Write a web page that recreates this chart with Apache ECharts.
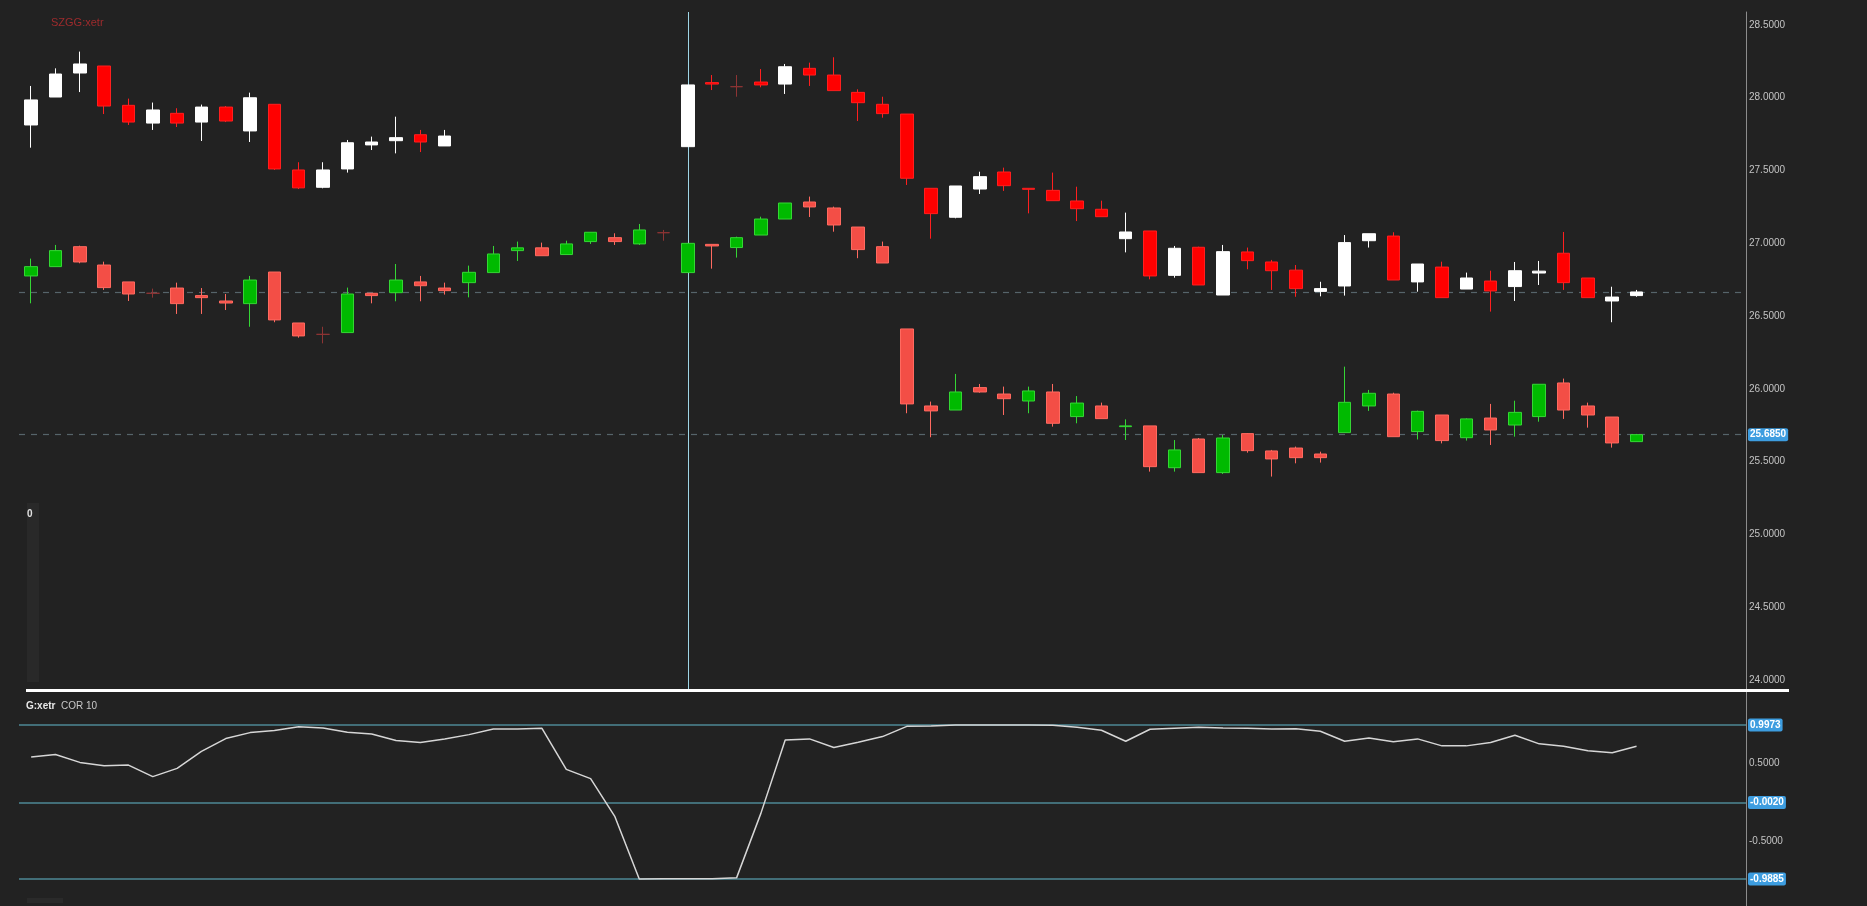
<!DOCTYPE html>
<html>
<head>
<meta charset="utf-8">
<script src="https://cdn.jsdelivr.net/npm/echarts@6/dist/echarts.min.js"></script>
<style>
html,body{margin:0;padding:0;background:#222222;}
#chart{width:1867px;height:906px;}
</style>
</head>
<body>
<div id="chart"></div>
<script>
// ---- data ----
// rows: [open, close, low, high]
const szgg = [
  [27.812,27.984,27.656,28.080],[28.004,28.162,28.004,28.201],[28.169,28.231,28.038,28.316],
  [28.217,27.942,27.887,28.217],[27.947,27.832,27.812,27.993],[27.825,27.915,27.778,27.966],
  [27.892,27.825,27.798,27.927],[27.832,27.935,27.702,27.952],[27.935,27.839,27.832,27.942],
  [27.771,27.999,27.695,28.034],[27.954,27.510,27.503,27.954],[27.503,27.380,27.372,27.556],
  [27.384,27.503,27.377,27.556],[27.510,27.690,27.485,27.709],[27.675,27.695,27.640,27.732],
  [27.704,27.725,27.617,27.869],[27.745,27.695,27.626,27.778],[27.668,27.736,27.668,27.778],
  '-','-','-','-','-','-','-','-','-',
  [27.663,28.087,27.663,28.087],[28.103,28.093,28.052,28.155],[28.075,28.075,28.006,28.155],
  [28.107,28.087,28.071,28.196],[28.093,28.212,28.025,28.231],[28.201,28.155,28.080,28.240],
  [28.155,28.048,28.048,28.277],[28.036,27.965,27.839,28.057],[27.954,27.890,27.862,28.006],
  [27.887,27.446,27.400,27.887],[27.377,27.203,27.031,27.377],[27.178,27.393,27.171,27.393],
  [27.372,27.457,27.338,27.491],[27.489,27.395,27.359,27.519],[27.377,27.370,27.205,27.377],
  [27.363,27.292,27.292,27.485],[27.290,27.237,27.152,27.388],[27.233,27.182,27.182,27.292],
  [27.031,27.077,26.937,27.210],[27.084,26.775,26.752,27.084],[26.779,26.965,26.763,26.981],
  [26.972,26.713,26.713,26.976],[26.644,26.942,26.644,26.988],[26.940,26.880,26.821,26.970],
  [26.871,26.811,26.679,26.885],[26.815,26.688,26.632,26.850],[26.669,26.688,26.635,26.735],
  [26.706,27.004,26.640,27.056],[27.017,27.065,26.970,27.065],[27.049,26.747,26.747,27.075],
  [26.734,26.857,26.667,26.857],[26.836,26.626,26.626,26.873],[26.685,26.761,26.685,26.798],
  [26.740,26.672,26.530,26.811],[26.702,26.811,26.603,26.871],[26.795,26.808,26.713,26.878],
  [26.931,26.729,26.679,27.077],[26.761,26.626,26.626,26.761],[26.603,26.630,26.457,26.701],
  [26.640,26.665,26.632,26.679]
];
const second = [
  [26.775,26.839,26.587,26.894],[26.839,26.949,26.839,26.988],[26.976,26.871,26.862,26.983],
  [26.850,26.695,26.679,26.873],[26.734,26.651,26.603,26.734],[26.656,26.656,26.626,26.688],
  [26.692,26.585,26.514,26.729],[26.640,26.626,26.514,26.692],[26.603,26.589,26.541,26.651],
  [26.585,26.747,26.426,26.775],[26.802,26.473,26.457,26.802],[26.452,26.363,26.351,26.452],
  [26.374,26.374,26.312,26.426],[26.386,26.651,26.386,26.695],[26.656,26.640,26.587,26.656],
  [26.660,26.747,26.601,26.857],[26.734,26.708,26.601,26.775],[26.692,26.674,26.647,26.729],
  [26.729,26.800,26.628,26.846],[26.798,26.926,26.798,26.981],[26.949,26.968,26.878,27.011],
  [26.968,26.914,26.914,27.004],[26.922,26.995,26.922,27.017],[27.011,27.075,26.995,27.075],
  [27.038,27.011,26.988,27.068],[26.995,27.091,26.988,27.132],[27.072,27.072,27.017,27.091],
  [26.798,26.999,26.798,26.999],[26.992,26.981,26.825,26.992],[26.970,27.038,26.901,27.045],
  [27.056,27.166,27.056,27.182],[27.166,27.276,27.166,27.276],[27.283,27.249,27.180,27.320],
  [27.242,27.125,27.079,27.251],[27.111,26.956,26.897,27.111],[26.976,26.864,26.864,27.011],
  [26.411,25.896,25.832,26.411],[25.882,25.848,25.667,25.912],[25.854,25.978,25.854,26.102],
  [26.008,25.978,25.973,26.033],[25.964,25.932,25.820,26.015],[25.916,25.985,25.832,26.015],
  [25.978,25.763,25.740,26.033],[25.809,25.902,25.763,25.950],[25.882,25.795,25.795,25.905],
  [25.740,25.745,25.648,25.790],[25.745,25.465,25.431,25.745],[25.458,25.580,25.431,25.648],
  [25.655,25.424,25.424,25.662],[25.424,25.662,25.415,25.683],[25.692,25.575,25.561,25.696],
  [25.573,25.518,25.397,25.580],[25.593,25.527,25.488,25.603],[25.552,25.527,25.493,25.568],
  [25.699,25.907,25.699,26.152],[25.882,25.969,25.848,25.992],[25.964,25.671,25.671,25.973],
  [25.706,25.845,25.652,25.850],[25.820,25.644,25.625,25.820],[25.664,25.793,25.644,25.797],
  [25.799,25.717,25.614,25.896],[25.751,25.838,25.671,25.918],[25.809,26.031,25.774,26.031],
  [26.040,25.854,25.793,26.070],[25.882,25.820,25.733,25.905],[25.806,25.628,25.596,25.806],
  [25.637,25.685,25.637,25.690]
];
const cor10 = [
  0.583,0.617,0.515,0.472,0.480,0.331,0.438,0.656,0.822,0.899,
  0.925,0.976,0.959,0.903,0.882,0.797,0.771,0.818,0.873,0.946,
  0.946,0.955,0.425,0.305,-0.186,-0.9885,-0.988,-0.987,-0.985,-0.975,
  -0.143,0.805,0.818,0.707,0.775,0.848,0.980,0.984,0.997,0.9973,
  0.997,0.997,0.993,0.967,0.929,0.788,0.942,0.955,0.967,0.959,
  0.955,0.946,0.950,0.916,0.788,0.831,0.780,0.818,0.728,0.728,
  0.771,0.865,0.754,0.724,0.664,0.639,0.724
];
const corLevels = [0.9973, -0.0020, -0.9885];
const szggLast = 26.665;
const secondLast = 25.685;
const crossIndex = 27;
const priceTicks = [24.0, 24.5, 25.0, 25.5, 26.0, 26.5, 27.0, 27.5, 28.0, 28.5];
const corTicks = [0.5, -0.5];
const slotCount = 71; // 67 bars + empty space on the right
const categories = Array.from({length: slotCount}, (_, i) => String(i + 1));

// ---- chart ----
const FONT = 'Liberation Sans, Arial, sans-serif';
const chart = echarts.init(document.getElementById('chart'), null, {renderer: 'canvas'});
const blueLabel = {
  show: true, position: 'end', distance: 2,
  formatter: p => Number(p.value).toFixed(4),
  backgroundColor: '#3d9de0', color: '#ffffff', fontWeight: 'bold',
  fontFamily: FONT, fontSize: 10, padding: [2, 2, 1, 2], borderRadius: 2
};
chart.setOption({
  animation: false,
  backgroundColor: '#222222',
  title: {
    text: 'SZGG:xetr', left: 46, top: 12,
    textStyle: {color: '#9e2b2d', fontSize: 11, fontWeight: 'normal', fontFamily: FONT}
  },
  grid: [
    {left: 19, right: 121, top: 12, height: 678},
    {left: 19, right: 121, top: 691, height: 215}
  ],
  xAxis: [
    {type: 'category', gridIndex: 0, data: categories, boundaryGap: true,
     axisLine: {show: false}, axisTick: {show: false}, axisLabel: {show: false}, splitLine: {show: false}},
    {type: 'category', gridIndex: 1, data: categories, boundaryGap: true,
     axisLine: {show: false}, axisTick: {show: false}, axisLabel: {show: false}, splitLine: {show: false}}
  ],
  yAxis: [
    {type: 'value', gridIndex: 0, position: 'right', scale: true,
     min: 23.931, max: 28.588,
     axisLine: {show: true, lineStyle: {color: '#8c8c8c', width: 1}},
     axisTick: {show: false}, splitLine: {show: false},
     axisLabel: {show: true, customValues: priceTicks, margin: 3, color: '#c4c4c4',
                 fontFamily: FONT, fontSize: 10, formatter: v => Number(v).toFixed(4)}},
    {type: 'value', gridIndex: 1, position: 'right',
     min: -1.338, max: 1.436,
     axisLine: {show: true, lineStyle: {color: '#8c8c8c', width: 1}},
     axisTick: {show: false}, splitLine: {show: false},
     axisLabel: {show: true, customValues: corTicks, margin: 3, color: '#c4c4c4',
                 fontFamily: FONT, fontSize: 10, formatter: v => Number(v).toFixed(4)}}
  ],
  series: [
    {
      name: 'SZGG:xetr', type: 'candlestick', xAxisIndex: 0, yAxisIndex: 0,
      data: szgg, barWidth: 13, z: 3,
      itemStyle: {color: '#ffffff', color0: '#ff0000', borderColor: '#ffffff',
                  borderColor0: '#ff1f1f', borderColorDoji: '#8e3434', borderWidth: 1},
      markLine: {
        silent: true, symbol: 'none', z: 2, precision: 4,
        data: [
          {yAxis: szggLast, lineStyle: {color: '#56646a', type: [6, 6], width: 1.2}, label: {show: false}},
          {xAxis: categories[crossIndex], lineStyle: {color: '#9fd6e6', type: 'solid', width: 1}, label: {show: false}}
        ]
      }
    },
    {
      name: 'second', type: 'candlestick', xAxisIndex: 0, yAxisIndex: 0,
      data: second, barWidth: 13, z: 3,
      itemStyle: {color: '#00ba00', color0: '#f34e46', borderColor: '#35d635',
                  borderColor0: '#ff6a60', borderColorDoji: '#8e3434', borderWidth: 1},
      markLine: {
        silent: true, symbol: 'none', z: 2, precision: 4,
        data: [
          {yAxis: secondLast, lineStyle: {color: '#56646a', type: [6, 6], width: 1.2}, label: blueLabel}
        ]
      }
    },
    {
      name: 'COR 10', type: 'line', xAxisIndex: 1, yAxisIndex: 1,
      data: cor10, showSymbol: false, symbol: 'none', z: 4,
      lineStyle: {color: '#d6d6d6', width: 1.5},
      markLine: {
        silent: true, symbol: 'none', z: 3, precision: 4,
        lineStyle: {color: '#4e8896', type: 'solid', width: 1.5},
        label: blueLabel,
        data: corLevels.map(v => ({yAxis: v}))
      }
    }
  ],
  graphic: [
    {type: 'rect', left: 26, top: 689, shape: {width: 1763, height: 3}, style: {fill: '#ffffff'}, z: 10},
    {type: 'text', left: 26, top: 701, style: {text: 'G:xetr', fill: '#e8e8e8', font: 'bold 10px ' + FONT}, z: 10},
    {type: 'text', left: 61, top: 701, style: {text: 'COR 10', fill: '#c8c8c8', font: '10px ' + FONT}, z: 10},
    {type: 'rect', left: 27, top: 503, shape: {width: 12, height: 179}, style: {fill: '#292929'}, z: 1},
    {type: 'text', left: 27, top: 509, style: {text: '0', fill: '#e0e0e0', font: 'bold 10px ' + FONT}, z: 2},
    {type: 'rect', left: 27, top: 898, shape: {width: 36, height: 5}, style: {fill: '#2a2a2a'}, z: 1}
  ]
});
</script>
</body>
</html>
